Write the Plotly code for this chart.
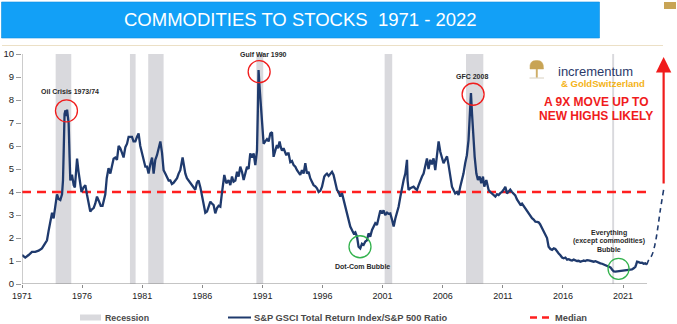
import plotly.graph_objects as go

# ---------------------------------------------------------------------------
# Data: S&P GSCI Total Return Index / S&P 500 ratio (approximate readings)
# ---------------------------------------------------------------------------
YEARS = [
    1971.00, 1971.27, 1971.55, 1971.83, 1972.10, 1972.38, 1972.66, 1972.94, 1973.08, 1973.21,
    1973.35, 1973.50, 1973.63, 1973.77, 1973.91, 1974.04, 1974.19, 1974.33, 1974.41, 1974.47,
    1974.54, 1974.62, 1974.68, 1974.75, 1974.88, 1974.96, 1975.02, 1975.16, 1975.30, 1975.40,
    1975.58, 1975.70, 1975.85, 1975.95, 1976.12, 1976.27, 1976.40, 1976.55, 1976.68, 1976.82,
    1976.96, 1977.10, 1977.24, 1977.40, 1977.55, 1977.70, 1977.93, 1978.05, 1978.20, 1978.35,
    1978.49, 1978.62, 1978.76, 1978.90, 1979.04, 1979.18, 1979.32, 1979.45, 1979.60, 1979.74,
    1979.87, 1980.01, 1980.15, 1980.28, 1980.43, 1980.57, 1980.70, 1980.84, 1980.98, 1981.12,
    1981.26, 1981.40, 1981.53, 1981.67, 1981.82, 1981.95, 1982.09, 1982.23, 1982.36, 1982.51,
    1982.65, 1982.78, 1982.92, 1983.06, 1983.20, 1983.34, 1983.47, 1983.61, 1983.75, 1983.90,
    1984.03, 1984.17, 1984.36, 1984.47, 1984.59, 1984.72, 1984.86, 1985.00, 1985.14, 1985.28,
    1985.42, 1985.55, 1985.69, 1985.84, 1985.98, 1986.11, 1986.25, 1986.39, 1986.53, 1986.67,
    1986.80, 1986.94, 1987.08, 1987.22, 1987.36, 1987.50, 1987.62, 1987.72, 1987.83, 1988.00,
    1988.19, 1988.33, 1988.47, 1988.60, 1988.75, 1988.89, 1989.02, 1989.16, 1989.30, 1989.44,
    1989.58, 1989.72, 1989.85, 1989.99, 1990.13, 1990.27, 1990.41, 1990.55, 1990.62, 1990.68,
    1990.76, 1990.83, 1990.90, 1990.97, 1991.04, 1991.10, 1991.24, 1991.38, 1991.52, 1991.66,
    1991.80, 1991.93, 1992.07, 1992.21, 1992.30, 1992.43, 1992.53, 1992.63, 1992.76, 1992.88,
    1992.99, 1993.10, 1993.18, 1993.32, 1993.46, 1993.60, 1993.74, 1993.88, 1994.01, 1994.15,
    1994.29, 1994.43, 1994.57, 1994.71, 1994.84, 1994.98, 1995.12, 1995.26, 1995.40, 1995.54,
    1995.68, 1995.82, 1995.96, 1996.15, 1996.26, 1996.37, 1996.51, 1996.65, 1996.79, 1996.92,
    1997.06, 1997.21, 1997.34, 1997.48, 1997.62, 1997.76, 1997.90, 1998.04, 1998.17, 1998.31,
    1998.45, 1998.59, 1998.73, 1998.87, 1999.00, 1999.14, 1999.28, 1999.42, 1999.56, 1999.70,
    1999.83, 1999.97, 2000.12, 2000.25, 2000.39, 2000.53, 2000.67, 2000.81, 2000.95, 2001.08,
    2001.22, 2001.37, 2001.50, 2001.64, 2001.78, 2001.92, 2002.06, 2002.20, 2002.33, 2002.48,
    2002.61, 2002.75, 2002.89, 2003.03, 2003.08, 2003.16, 2003.30, 2003.44, 2003.58, 2003.72,
    2003.86, 2004.00, 2004.13, 2004.28, 2004.41, 2004.55, 2004.69, 2004.82, 2004.97, 2005.10,
    2005.24, 2005.38, 2005.52, 2005.66, 2005.80, 2005.94, 2006.07, 2006.21, 2006.36, 2006.49,
    2006.63, 2006.77, 2006.90, 2007.04, 2007.18, 2007.32, 2007.46, 2007.60, 2007.73, 2007.87,
    2008.01, 2008.15, 2008.26, 2008.35, 2008.44, 2008.53, 2008.66, 2008.80, 2008.93, 2009.07,
    2009.21, 2009.35, 2009.46, 2009.63, 2009.82, 2009.96, 2010.10, 2010.24, 2010.38, 2010.52,
    2010.65, 2010.79, 2010.93, 2011.07, 2011.21, 2011.35, 2011.49, 2011.62, 2011.76, 2011.90,
    2012.04, 2012.18, 2012.32, 2012.46, 2012.60, 2012.73, 2012.87, 2013.01, 2013.15, 2013.29,
    2013.43, 2013.57, 2013.71, 2013.84, 2013.98, 2014.10, 2014.20, 2014.30, 2014.40, 2014.54,
    2014.68, 2014.81, 2014.96, 2015.10, 2015.24, 2015.37, 2015.51, 2015.65, 2015.79, 2015.93,
    2016.07, 2016.21, 2016.35, 2016.49, 2016.63, 2016.76, 2016.90, 2017.04, 2017.17, 2017.31,
    2017.45, 2017.59, 2017.73, 2017.87, 2018.01, 2018.15, 2018.29, 2018.43, 2018.57, 2018.71,
    2018.85, 2018.98, 2019.12, 2019.26, 2019.40, 2019.54, 2019.68, 2019.82, 2019.96, 2020.10,
    2020.23, 2020.37, 2020.50, 2020.64, 2020.78, 2020.92, 2021.06, 2021.20, 2021.34, 2021.47,
    2021.61, 2021.75, 2021.89, 2022.03, 2022.10, 2022.17, 2022.30, 2022.44, 2022.58, 2022.71,
    2022.85, 2022.99,
]
RATIO = [
    1.26, 1.15, 1.26, 1.40, 1.40, 1.45, 1.55, 1.75, 1.90, 2.30,
    2.75, 3.10, 2.85, 3.40, 3.90, 3.70, 3.65, 3.90, 4.50, 5.80,
    7.40, 7.55, 7.30, 7.58, 7.00, 5.50, 4.50, 4.75, 4.30, 4.20,
    5.45, 4.90, 4.40, 4.00, 4.20, 4.30, 3.90, 3.50, 3.15, 3.25,
    3.30, 3.50, 3.80, 3.60, 3.40, 3.40, 3.90, 4.60, 5.04, 4.80,
    5.10, 5.45, 5.50, 5.40, 6.00, 5.90, 5.70, 5.50, 5.95, 6.10,
    6.40, 6.40, 6.40, 6.20, 6.20, 6.40, 6.55, 6.00, 5.70, 5.40,
    5.10, 5.10, 4.80, 5.20, 5.50, 4.80, 5.40, 5.60, 5.90, 6.20,
    5.70, 4.95, 4.80, 4.67, 4.50, 4.50, 4.35, 4.40, 4.50, 4.60,
    4.80, 4.95, 5.50, 5.10, 4.80, 4.60, 4.50, 4.40, 4.30, 4.20,
    4.10, 4.40, 4.50, 4.20, 3.80, 3.36, 3.10, 3.15, 3.40, 3.58,
    3.50, 3.43, 3.07, 3.30, 3.40, 3.36, 3.90, 4.23, 4.74, 4.38,
    4.52, 4.30, 4.67, 4.45, 4.50, 4.88, 4.67, 5.10, 4.88, 4.52,
    4.80, 5.10, 5.00, 5.68, 5.50, 5.68, 5.17, 5.80, 7.50, 9.30,
    8.60, 8.00, 7.30, 6.90, 6.30, 6.10, 6.20, 6.30, 6.20, 6.55,
    6.60, 5.53, 5.80, 6.04, 5.90, 6.20, 5.95, 5.80, 5.90, 5.70,
    5.60, 5.68, 5.68, 5.30, 5.35, 5.17, 5.10, 4.95, 4.85, 4.74,
    4.95, 4.80, 5.25, 4.80, 4.88, 4.60, 4.45, 4.30, 4.25, 4.16,
    4.00, 4.05, 4.23, 4.67, 4.75, 4.80, 4.70, 4.80, 4.88, 4.74,
    4.45, 4.09, 4.00, 3.80, 3.95, 3.65, 3.36, 3.07, 2.78, 2.50,
    2.35, 2.20, 2.25, 2.06, 1.62, 1.55, 1.75, 1.70, 1.85, 1.90,
    2.20, 2.06, 2.35, 2.50, 2.64, 2.57, 2.86, 3.20, 3.07, 3.20,
    3.00, 3.10, 3.05, 3.07, 2.80, 2.50, 2.85, 3.07, 3.36, 3.80,
    4.23, 4.52, 4.80, 5.40, 4.50, 4.09, 4.16, 4.20, 4.23, 4.15,
    4.09, 4.30, 4.52, 4.67, 4.80, 5.10, 5.46, 5.00, 5.40, 5.20,
    5.46, 4.95, 5.50, 6.20, 5.75, 5.45, 5.25, 5.40, 5.55, 5.17,
    4.67, 4.23, 4.09, 3.94, 4.00, 3.87, 4.23, 4.52, 4.80, 5.25,
    5.60, 6.26, 7.30, 8.30, 7.40, 6.40, 5.53, 4.80, 4.52, 4.67,
    4.38, 4.67, 4.23, 4.52, 4.09, 4.00, 3.94, 3.85, 3.80, 3.90,
    3.87, 3.95, 4.00, 4.10, 4.23, 3.94, 4.05, 4.10, 4.00, 3.94,
    3.85, 3.68, 3.55, 3.45, 3.50, 3.40, 3.30, 3.20, 3.07, 2.95,
    2.86, 2.80, 2.71, 2.70, 2.68, 2.60, 2.50, 2.40, 2.30, 2.15,
    2.00, 1.62, 1.52, 1.48, 1.55, 1.52, 1.40, 1.33, 1.25, 1.15,
    1.12, 1.15, 1.06, 1.08, 1.04, 1.02, 1.06, 1.03, 1.00, 1.01,
    0.97, 0.99, 1.02, 1.00, 1.04, 1.03, 1.00, 0.98, 0.97, 0.99,
    0.95, 0.92, 0.90, 0.88, 0.85, 0.83, 0.80, 0.78, 0.72, 0.62,
    0.55, 0.54, 0.55, 0.54, 0.55, 0.57, 0.60, 0.60, 0.61, 0.60,
    0.62, 0.64, 0.68, 0.75, 0.85, 0.97, 0.95, 0.92, 0.93, 0.88,
    0.90, 0.85,
]

# Projected path back up toward the median
PROJ_YEARS = [2022.99, 2023.13, 2023.41, 2023.68, 2023.91, 2024.10, 2024.38]
PROJ_RATIO = [0.85, 1.04, 1.26, 1.77, 2.50, 3.20, 4.10]

MEDIAN = 4.0
MEDIAN_SPAN = [1971.0, 2023.0]

# US recessions (decimal years)
REC_START = [1973.80, 1979.98, 1981.50, 1990.50, 2001.17, 2007.94, 2020.10]
REC_END = [1975.10, 1980.45, 1982.78, 1991.07, 2001.80, 2009.38, 2020.26]

TICK_YEARS = [1971, 1976, 1981, 1986, 1991, 1996, 2001, 2006, 2011, 2016, 2021]
Y_TICKS = list(range(0, 11))

# ---------------------------------------------------------------------------
# Layout geometry (pixels)
# ---------------------------------------------------------------------------
FIG_W, FIG_H = 677, 324
M_L, M_R, M_T, M_B = 22, 5, 54, 40
PW = FIG_W - M_L - M_R
PH = FIG_H - M_T - M_B
X_MIN = 1971.0
PX_PER_YEAR = 12.02
X_MAX = X_MIN + PW / PX_PER_YEAR


def fx(px):
    """Horizontal pixel -> paper coordinate."""
    return (px - M_L) / PW


def fy(py):
    """Vertical pixel -> paper coordinate."""
    return (M_T + PH - py) / PH


NAVY = "#1f3a6d"
RED = "#f01c1c"
GREEN = "#33b24d"
REC_GRAY = "#d9d9dd"
GOLD = "#c8a455"
TXT = "#2a2a2a"
FONT = "Liberation Sans, Arial, sans-serif"

fig = go.Figure()

# Median line
fig.add_trace(go.Scatter(
    x=MEDIAN_SPAN, y=[MEDIAN, MEDIAN], mode="lines",
    line=dict(color="#ff1f1f", width=2.6, dash="9px,6px"),
    hoverinfo="skip", showlegend=False,
))

# Ratio series
fig.add_trace(go.Scatter(
    x=YEARS, y=RATIO, mode="lines",
    line=dict(color=NAVY, width=2.3),
    name="S&P GSCI Total Return Index/S&P 500 Ratio", showlegend=False,
))

# Projection
fig.add_trace(go.Scatter(
    x=PROJ_YEARS, y=PROJ_RATIO, mode="lines",
    line=dict(color=NAVY, width=1.6, dash="5px,4px", shape="spline"),
    hoverinfo="skip", showlegend=False,
))

shapes = []

# Recession bands
for s, e in zip(REC_START, REC_END):
    shapes.append(dict(type="rect", xref="x", yref="y", x0=s, x1=e, y0=0, y1=10,
                       fillcolor=REC_GRAY, line=dict(width=0), layer="below"))

# Axis lines
shapes.append(dict(type="line", xref="x", yref="y", x0=X_MIN, x1=2023.0, y0=0, y1=0,
                   line=dict(color="#8a8a8a", width=1)))
shapes.append(dict(type="line", xref="x", yref="y", x0=X_MIN, x1=X_MIN, y0=0, y1=10,
                   line=dict(color="#9a9a9a", width=1)))


# Highlight circles, anchored on data with pixel radius
def ring(year, val, color, r=11):
    return dict(type="circle", xref="x", yref="y", xsizemode="pixel", ysizemode="pixel",
                xanchor=year, yanchor=val, x0=-r, x1=r, y0=-r, y1=r,
                line=dict(color=color, width=1.3))


shapes += [
    ring(1974.70, 7.53, RED),
    ring(1990.73, 9.23, RED),
    ring(2008.53, 8.25, RED),
    ring(1999.12, 1.62, GREEN),
    ring(2020.63, 0.66, GREEN, r=10.5),
]

# Title banner and decorations
shapes.append(dict(type="rect", xref="paper", yref="paper",
                   x0=fx(1.5), x1=fx(599.5), y0=fy(38), y1=fy(2),
                   fillcolor="#12a0f7", line=dict(color="#0d8ee0", width=0.6)))
shapes.append(dict(type="line", xref="paper", yref="paper",
                   x0=fx(2), x1=fx(663), y0=fy(45.5), y1=fy(45.5),
                   line=dict(color="#ece0c6", width=1)))
shapes.append(dict(type="rect", xref="paper", yref="paper",
                   x0=fx(664), x1=fx(676), y0=fy(9), y1=fy(2),
                   fillcolor=GOLD, line=dict(width=0)))

# Tree logo mark
tree = (f"M {fx(536.2)},{fy(77.5)} L {fx(536.2)},{fy(69)} L {fx(530)},{fy(69)} "
        f"Q {fx(529)},{fy(60)} {fx(536.7)},{fy(60.5)} Q {fx(544)},{fy(60)} {fx(543.5)},{fy(69)} "
        f"L {fx(537.4)},{fy(69)} L {fx(537.4)},{fy(77.5)} Z")
shapes.append(dict(type="path", xref="paper", yref="paper", path=tree,
                   fillcolor=GOLD, line=dict(color=GOLD, width=0.5)))
shapes.append(dict(type="line", xref="paper", yref="paper",
                   x0=fx(529.5), x1=fx(544), y0=fy(78), y1=fy(78),
                   line=dict(color="#d8d0c0", width=1)))

# Legend swatches
LEG_Y = 317.5
shapes.append(dict(type="rect", xref="paper", yref="paper",
                   x0=fx(80), x1=fx(101), y0=fy(LEG_Y + 3), y1=fy(LEG_Y - 3),
                   fillcolor=REC_GRAY, line=dict(width=0)))
shapes.append(dict(type="line", xref="paper", yref="paper",
                   x0=fx(228), x1=fx(251), y0=fy(LEG_Y), y1=fy(LEG_Y),
                   line=dict(color=NAVY, width=2)))
shapes.append(dict(type="line", xref="paper", yref="paper",
                   x0=fx(530), x1=fx(552), y0=fy(LEG_Y), y1=fy(LEG_Y),
                   line=dict(color="#ff1f1f", width=2.4, dash="7px,5px")))

annotations = []


def note(x, y, text, size=7, color=TXT, xanchor="center", bold=True, xref="x", yref="y",
         family=FONT):
    annotations.append(dict(
        x=x, y=y, xref=xref, yref=yref, text=f"<b>{text}</b>" if bold else text,
        showarrow=False, xanchor=xanchor, yanchor="middle",
        font=dict(size=size, color=color, family=family),
    ))


# Event labels
note(1975.02, 8.35, "Oil Crisis 1973/74")
note(1991.07, 9.96, "Gulf War 1990")
note(2008.46, 9.04, "GFC 2008")
note(1999.31, 0.74, "Dot-Com Bubble")
note(2019.86, 2.22, "Everything")
note(2019.86, 1.86, "(except commodities)")
note(2019.86, 1.52, "Bubble")

# Title
note(fx(300), fy(20), "COMMODITIES TO STOCKS  1971 - 2022", size=18.5, color="white",
     bold=False, xref="paper", yref="paper")

# Brand text
note(fx(556), fy(71), "incrementum", size=13, color="#2b3a6a", xanchor="left", bold=False,
     xref="paper", yref="paper")
note(fx(558.5), fy(83), "& GoldSwitzerland", size=9.5, color="#f4b318", xanchor="left",
     xref="paper", yref="paper")

# Call-out
note(fx(596), fy(102), "A 9X MOVE UP TO", size=12, color=RED, xref="paper", yref="paper")
note(fx(596), fy(115.5), "NEW HIGHS LIKELY", size=12, color=RED, xref="paper", yref="paper")

# Legend labels
note(fx(103), fy(LEG_Y), "Recession", size=8.8, color="#4a4a4a", xanchor="left",
     xref="paper", yref="paper")
note(fx(252), fy(LEG_Y), "S&P GSCI Total Return Index/S&P 500 Ratio", size=9.3,
     color="#4a4a4a", xanchor="left", xref="paper", yref="paper")
note(fx(553), fy(LEG_Y), "Median", size=9.3, color="#4a4a4a", xanchor="left",
     xref="paper", yref="paper")

# Upward arrow toward new highs
annotations.append(dict(
    x=2024.38, y=9.87, ax=2024.38, ay=4.30, xref="x", yref="y", axref="x", ayref="y",
    text="", showarrow=True, arrowhead=2, arrowsize=1.4, arrowwidth=2.2, arrowcolor=RED,
))

fig.update_layout(
    width=FIG_W, height=FIG_H,
    margin=dict(l=M_L, r=M_R, t=M_T, b=M_B),
    paper_bgcolor="white", plot_bgcolor="white",
    showlegend=False,
    shapes=shapes, annotations=annotations,
    xaxis=dict(range=[X_MIN, X_MAX], tickmode="array", tickvals=TICK_YEARS,
               ticktext=[str(t) for t in TICK_YEARS], showgrid=False, zeroline=False,
               showline=False, ticks="outside", ticklen=3, tickcolor="#8a8a8a",
               tickfont=dict(size=9, color="#222", family=FONT)),
    yaxis=dict(range=[0, 10], tickmode="array", tickvals=Y_TICKS, showgrid=False,
               zeroline=False, showline=False, ticks="outside", ticklen=5,
               tickcolor="#9a9a9a", tickfont=dict(size=9.5, color="#222", family=FONT)),
)

fig.write_html("out.html")
